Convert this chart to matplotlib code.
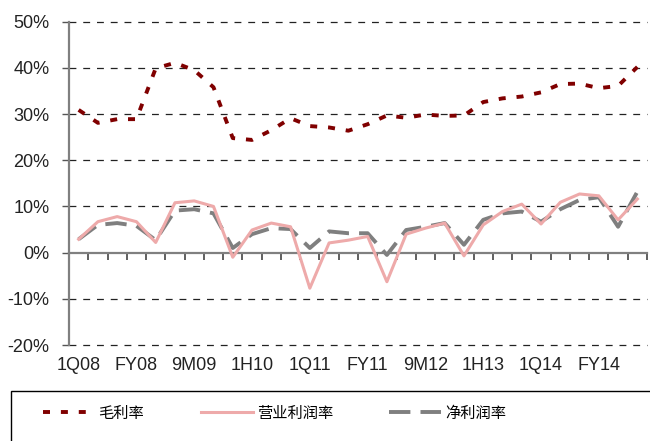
import matplotlib

matplotlib.use("Agg")
import matplotlib.pyplot as plt
from matplotlib.patches import Rectangle
from matplotlib.ticker import FuncFormatter

periods = ["1Q08", "1H08", "9M08", "FY08", "1Q09", "1H09", "9M09", "FY09",
           "1Q10", "1H10", "9M10", "FY10", "1Q11", "1H11", "9M11", "FY11",
           "1Q12", "1H12", "9M12", "FY12", "1Q13", "1H13", "9M13", "FY13",
           "1Q14", "1H14", "9M14", "FY14", "1Q15", "1H15"]

gross = [30.9, 28.1, 28.9, 28.9, 39.9, 41.1, 39.5, 35.8, 24.8, 24.4,
         26.5, 29.1, 27.4, 27.1, 26.4, 27.8, 29.7, 29.2, 29.9, 29.6,
         29.7, 32.6, 33.4, 33.8, 34.7, 36.5, 36.6, 35.6, 36.1, 40.2]
operating = [2.9, 6.7, 7.8, 6.7, 2.2, 10.8, 11.2, 10.0, -1.0, 4.9,
             6.4, 5.6, -7.7, 2.1, 2.7, 3.5, -6.3, 4.0, 5.3, 6.4,
             -0.7, 6.0, 8.9, 10.5, 6.2, 10.9, 12.7, 12.3, 7.1, 11.6]
net = [2.9, 6.0, 6.4, 5.8, 2.7, 9.1, 9.4, 8.5, 1.0, 4.0,
       5.3, 5.1, 1.0, 4.6, 4.2, 4.2, -0.5, 4.9, 5.6, 6.4,
       1.7, 7.1, 8.5, 8.9, 6.7, 9.4, 11.4, 12.0, 5.6, 13.2]

series_names = ["毛利率", "营业利润率", "净利润率"]
label_every = 3

plt.rcParams["font.family"] = ["Liberation Sans Narrow", "Liberation Sans", "DejaVu Sans"]

fig = plt.figure(figsize=(6.5, 4.41), dpi=100)
ax = fig.add_axes([69 / 650, 1 - 345 / 441, 578 / 650, 323.3 / 441])

x = list(range(len(periods)))
ax.plot(x, gross, color="#800000", lw=2.8, ls=(0, (1.8, 2.8)), label=series_names[0], zorder=3)
ax.plot(x, operating, color="#eeaaaa", lw=2.2, label=series_names[1], zorder=3)
ax.plot(x, net, color="#7f7f7f", lw=2.8, ls=(0, (5.5, 2.6)), label=series_names[2], zorder=2)

ax.set_xlim(-0.5, len(periods) - 0.5)
ax.set_ylim(-20, 50)
ax.set_yticks(range(-20, 51, 10))
ax.yaxis.set_major_formatter(FuncFormatter(lambda v, _: f"{v:.0f}%"))
for v in range(-20, 51, 10):
    if v != 0:
        ax.axhline(v, color="#222222", lw=0.9, ls=(0, (5.5, 5.5)), zorder=1, clip_on=False)

for side in ("top", "right"):
    ax.spines[side].set_visible(False)
ax.spines["left"].set_color("#808080")
ax.spines["left"].set_linewidth(1.6)
ax.spines["bottom"].set_position(("data", 0))
ax.spines["bottom"].set_color("#808080")
ax.spines["bottom"].set_linewidth(1.6)

# category boundary ticks hanging below the zero line
ax.set_xticks([i - 0.5 for i in range(len(periods) + 1)])
ax.set_xticklabels([])
ax.tick_params(axis="x", direction="out", length=5, width=1.2, color="#444444", pad=0)
ax.tick_params(axis="y", direction="out", length=5, width=1.0, color="#555555",
               labelsize=13, labelcolor="#222222", pad=9)

sec = ax.secondary_xaxis("bottom")
sec.spines["bottom"].set_visible(False)
sec.set_xticks(x[::label_every])
sec.set_xticklabels(periods[::label_every])
sec.tick_params(length=0, labelsize=13, labelcolor="#222222", pad=9)

# legend box (runs off the bottom and right edges)
fig.patches.append(Rectangle((11 / 650, -0.1), 1.0, (441 - 391) / 441 + 0.1,
                             transform=fig.transFigure, fill=False,
                             ec="black", lw=1.0))
fig.legend(loc="center left", bbox_to_anchor=(29 / 650, 1 - 413 / 441), ncol=3,
           frameon=False, handlelength=3.4, handletextpad=0.25, columnspacing=3.7,
           prop={"family": ["Noto Sans CJK SC", "DejaVu Sans"], "size": 11})

fig.savefig("out.png", dpi=100)
